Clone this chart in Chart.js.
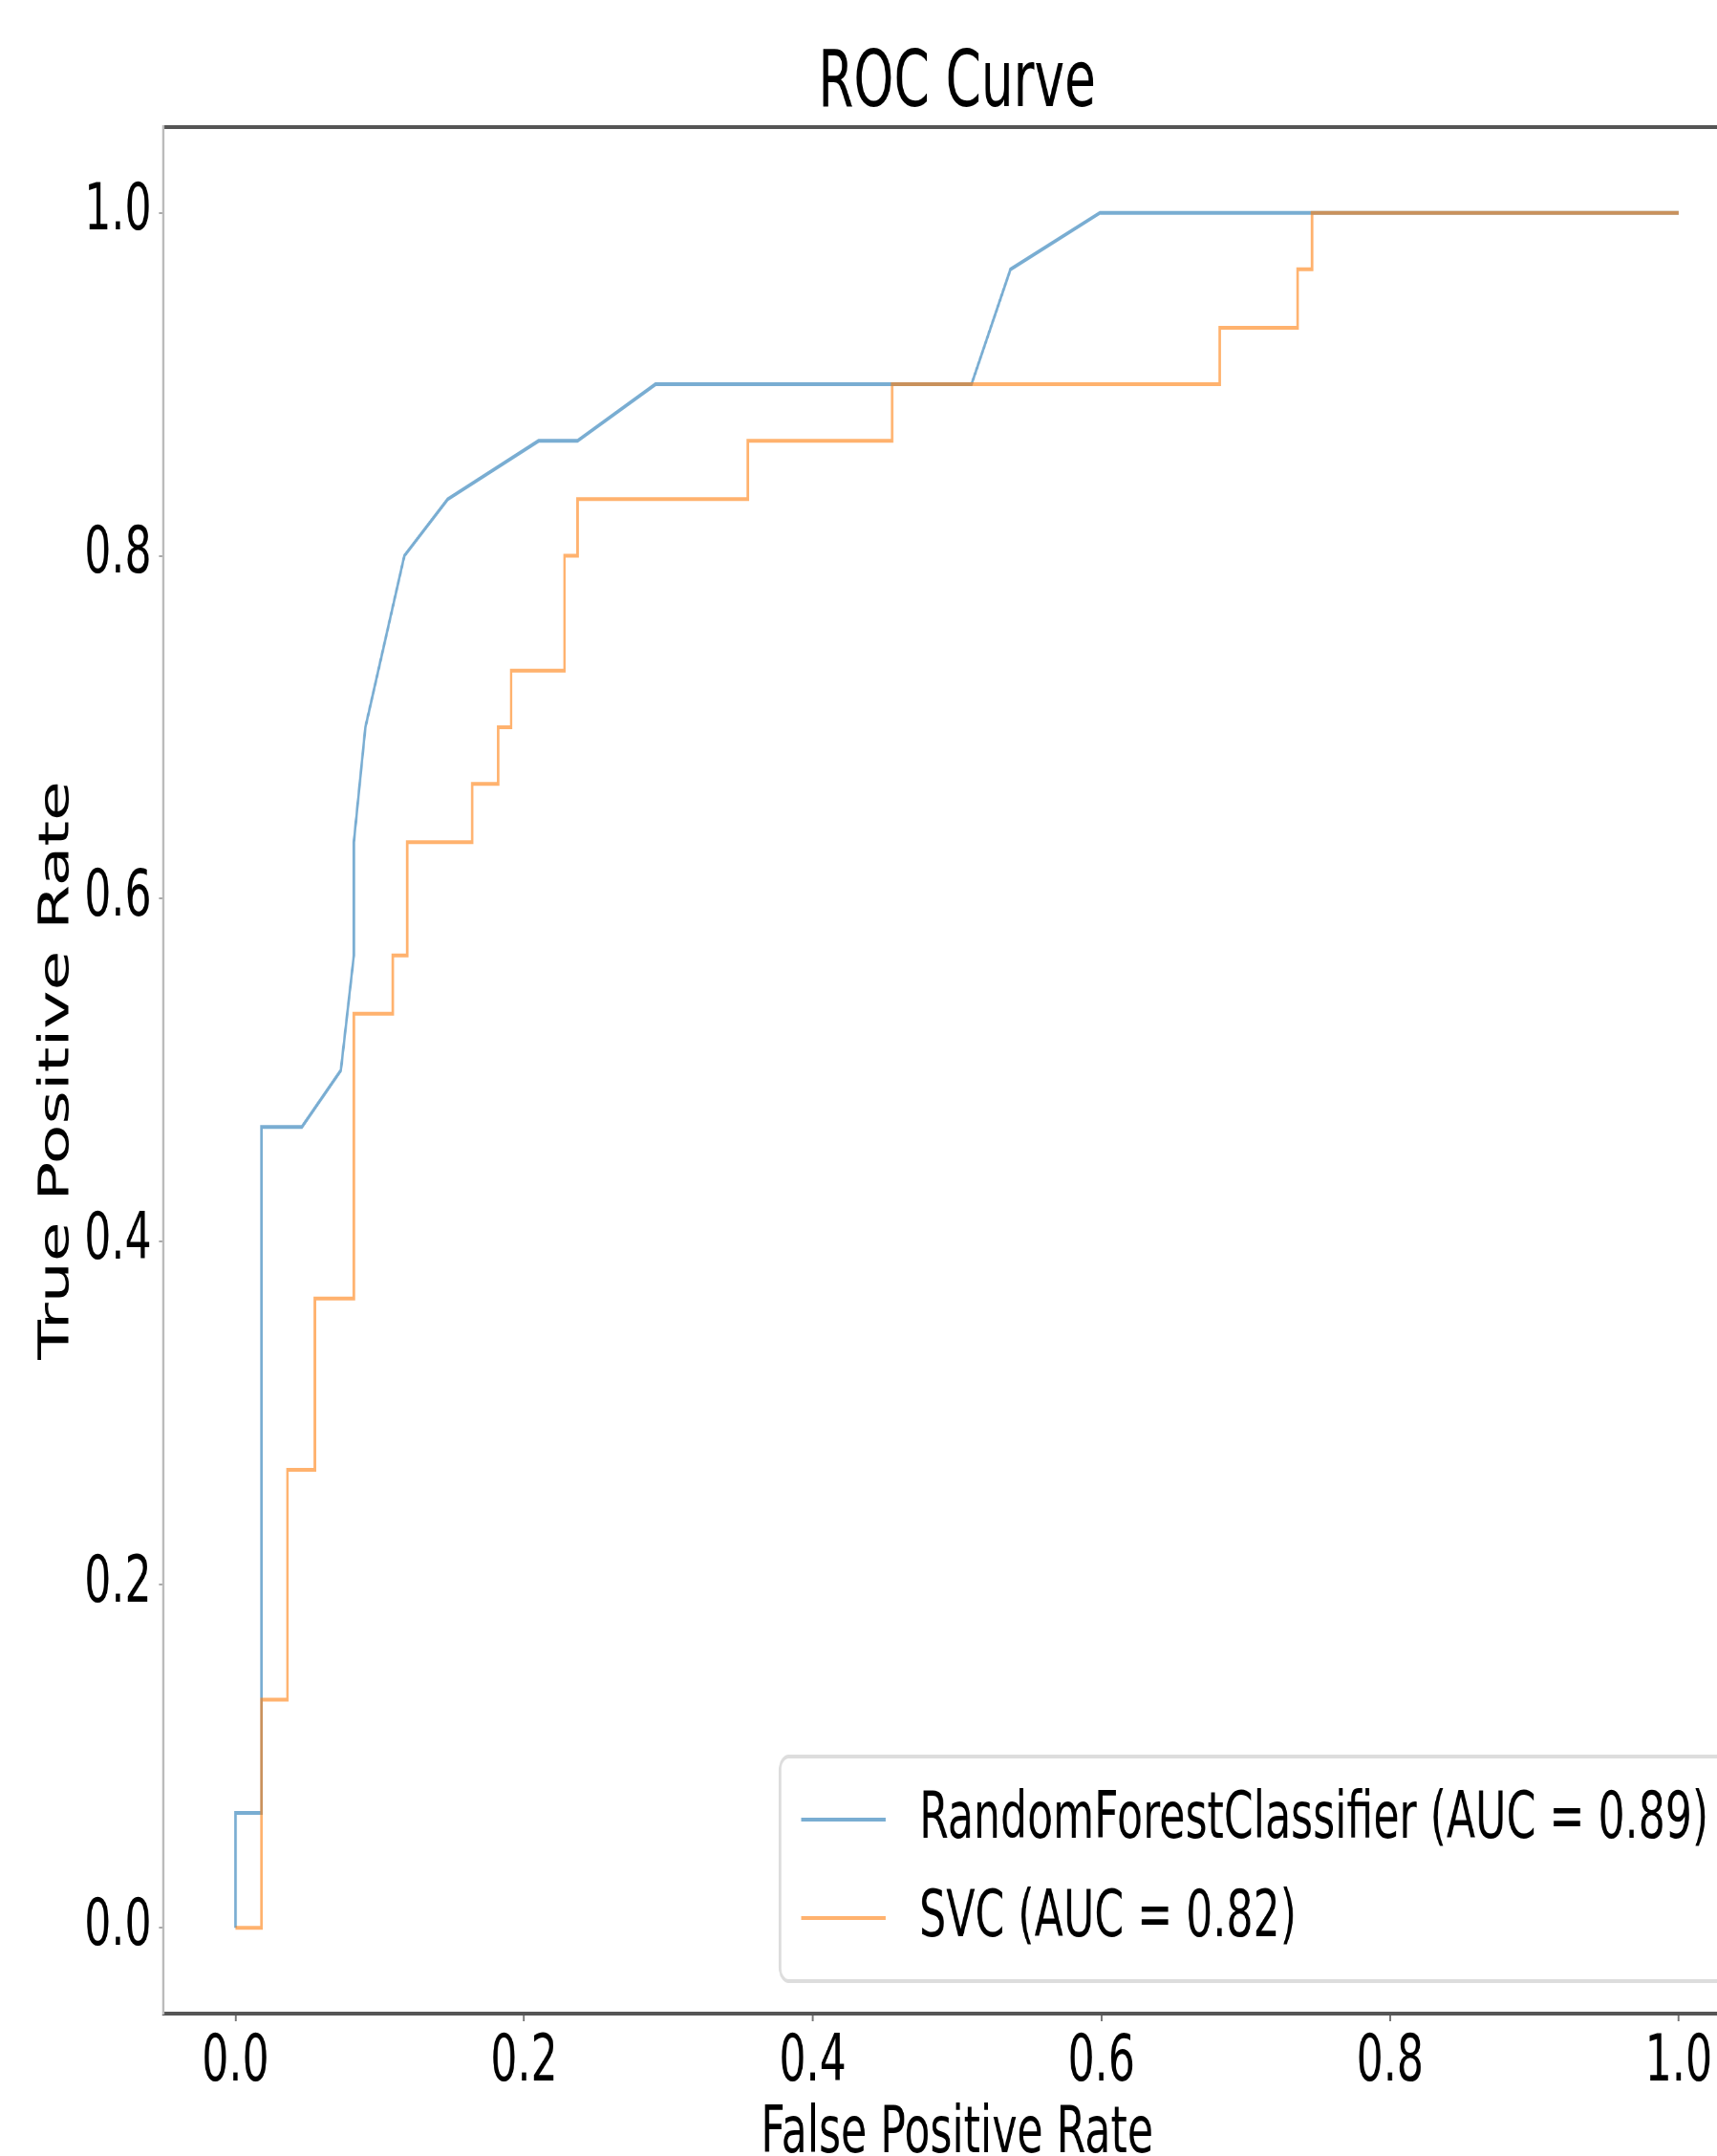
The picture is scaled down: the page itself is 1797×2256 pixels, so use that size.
<!DOCTYPE html>
<html lang="en">

<head>
    <meta charset="UTF-8">
    <title>ROC Curve</title>
    <style>
        html, body { margin: 0; padding: 0; overflow: hidden; background: #fff; }
        /* the source figure is squeezed horizontally, so draw wide and squeeze */
        #chart { display: block; transform: scaleX(0.65); transform-origin: 0 0; }
    </style>
</head>

<body>
    <canvas id="chart" width="2860" height="2256"></canvas>
</body>

<script src="https://cdn.jsdelivr.net/npm/chart.js@4.4.1/dist/chart.umd.min.js"></script>

<script>
    // ROC points (false positive rate / true positive rate)
    const rfFpr = [0, 0, 0.018, 0.018, 0.046, 0.073, 0.082, 0.082, 0.09, 0.117, 0.147, 0.21, 0.237, 0.291, 0.51, 0.537, 0.599, 1];
    const rfTpr = [0, 0.067, 0.067, 0.467, 0.467, 0.5, 0.567, 0.633, 0.7, 0.8, 0.833, 0.867, 0.867, 0.9, 0.9, 0.967, 1, 1];

    const svcFpr = [0, 0.018, 0.018, 0.036, 0.036, 0.055, 0.055, 0.082, 0.082, 0.109, 0.109, 0.119, 0.119,
        0.164, 0.164, 0.182, 0.182, 0.191, 0.191, 0.228, 0.228, 0.237, 0.237, 0.355, 0.355,
        0.455, 0.455, 0.682, 0.682, 0.736, 0.736, 0.746, 0.746, 1];
    const svcTpr = [0, 0, 0.133, 0.133, 0.267, 0.267, 0.367, 0.367, 0.533, 0.533, 0.567, 0.567, 0.633,
        0.633, 0.667, 0.667, 0.7, 0.7, 0.733, 0.733, 0.8, 0.8, 0.833, 0.833, 0.867,
        0.867, 0.9, 0.9, 0.933, 0.933, 0.967, 0.967, 1, 1];

    const seriesLabels = ['RandomForestClassifier (AUC = 0.89)', 'SVC (AUC = 0.82)'];

    const xTicks = [0, 0.2, 0.4, 0.6, 0.8, 1.0];
    const xTickLabels = ['0.0', '0.2', '0.4', '0.6', '0.8', '1.0'];
    const yTicks = [0, 0.2, 0.4, 0.6, 0.8, 1.0];
    const yTickLabels = ['0.0', '0.2', '0.4', '0.6', '0.8', '1.0'];

    const toPoints = (xs, ys) => xs.map((x, i) => ({ x: x, y: ys[i] }));

    Chart.defaults.font.family = '"DejaVu Sans", sans-serif';
    Chart.defaults.color = '#000';

    // matplotlib style legend, boxed in the lower right of the plot area
    const legendInside = {
        id: 'legendInside',
        afterDraw(chart) {
            const { ctx, chartArea } = chart;
            const fs = 68;
            const sets = chart.data.datasets;
            ctx.save();
            ctx.font = fs + 'px "DejaVu Sans"';
            const textW = Math.max(...sets.map(d => ctx.measureText(d.label).width));
            const padX = 0.5 * fs, handleW = 2 * fs, gap = 0.8 * fs;
            const right = chartArea.right - 0.5 * fs;
            const bottom = chartArea.bottom - 0.5 * fs;
            const left = right - (padX + handleW + gap + textW + padX);
            const top = bottom - 235;
            const r = 14;

            ctx.beginPath();
            ctx.moveTo(left + r, top);
            ctx.arcTo(right, top, right, bottom, r);
            ctx.arcTo(right, bottom, left, bottom, r);
            ctx.arcTo(left, bottom, left, top, r);
            ctx.arcTo(left, top, right, top, r);
            ctx.closePath();
            ctx.fillStyle = 'rgba(255,255,255,0.8)';
            ctx.fill();
            ctx.lineWidth = 4;
            ctx.strokeStyle = '#dddddd';
            ctx.stroke();

            sets.forEach((d, i) => {
                const y = top + 66 + i * 103;
                ctx.beginPath();
                ctx.moveTo(left + padX, y);
                ctx.lineTo(left + padX + handleW, y);
                ctx.strokeStyle = d.borderColor;
                ctx.lineWidth = 4;
                ctx.stroke();
                ctx.fillStyle = '#000';
                ctx.textBaseline = 'middle';
                ctx.textAlign = 'left';
                ctx.fillText(d.label, left + padX + handleW + gap, y + 1);
            });
            ctx.restore();
        }
    };

    let ctx = document.getElementById('chart');
    let data = {
        datasets: [{
            label: seriesLabels[0],
            data: toPoints(rfFpr, rfTpr),
            borderColor: 'rgba(31, 119, 180, 0.6)',
            borderWidth: 4,
            pointRadius: 0,
            showLine: true,
            tension: 0,
            order: 1
        }, {
            label: seriesLabels[1],
            data: toPoints(svcFpr, svcTpr),
            borderColor: 'rgba(255, 127, 14, 0.6)',
            borderWidth: 4,
            pointRadius: 0,
            showLine: true,
            tension: 0,
            order: 0
        }]
    };

    var config = {
        type: 'scatter',
        data: data,
        plugins: [legendInside],
        options: {
            responsive: false,
            devicePixelRatio: 1,
            animation: false,
            layout: { padding: { left: 0, right: 41, top: 0, bottom: 0 } },
            plugins: {
                legend: { display: false },
                tooltip: { enabled: false },
                title: {
                    display: true,
                    text: 'ROC Curve',
                    fullSize: false,
                    color: '#000',
                    font: { size: 82, weight: 'normal', lineHeight: 1.06 },
                    padding: { top: 46, bottom: 0 }
                }
            },
            scales: {
                x: {
                    type: 'linear',
                    position: 'bottom',
                    min: -0.05,
                    max: 1.05,
                    afterBuildTicks: axis => { axis.ticks = xTicks.map(v => ({ value: v })); },
                    afterFit: axis => { axis.height = 149; },
                    ticks: {
                        callback: (v, i) => xTickLabels[i],
                        font: { size: 68, lineHeight: 1 },
                        color: '#000',
                        padding: 10,
                        maxRotation: 0,
                        autoSkip: false
                    },
                    grid: { drawOnChartArea: false, tickLength: 8, color: '#777', lineWidth: 3 },
                    border: { display: true, color: '#555', width: 4 },
                    title: {
                        display: true,
                        text: 'False Positive Rate',
                        color: '#000',
                        font: { size: 68, lineHeight: 0.6 },
                        padding: { top: 0, bottom: 1 }
                    }
                },
                x2: {
                    type: 'linear',
                    position: 'top',
                    min: -0.05,
                    max: 1.05,
                    afterFit: axis => { axis.height = 0; },
                    ticks: { display: false },
                    grid: { display: false },
                    border: { display: true, color: '#555', width: 4 }
                },
                y: {
                    type: 'linear',
                    min: -0.05,
                    max: 1.05,
                    afterBuildTicks: axis => { axis.ticks = yTicks.map(v => ({ value: v })); },
                    afterFit: axis => { axis.width = 263; },
                    ticks: {
                        callback: (v, i) => yTickLabels[i],
                        font: { size: 68, lineHeight: 1.2 },
                        color: '#000',
                        padding: 12,
                        autoSkip: false
                    },
                    grid: { drawOnChartArea: false, tickLength: 7, color: '#aaa', lineWidth: 2 },
                    border: { display: true, color: '#bbb', width: 4 },
                    title: {
                        display: true,
                        text: 'True Positive Rate',
                        color: '#000',
                        font: { size: 68, lineHeight: 1.2 },
                        padding: { top: 52, bottom: 0 }
                    }
                }
            }
        }
    };
    var chart = new Chart(ctx, config);
</script>

</html>
